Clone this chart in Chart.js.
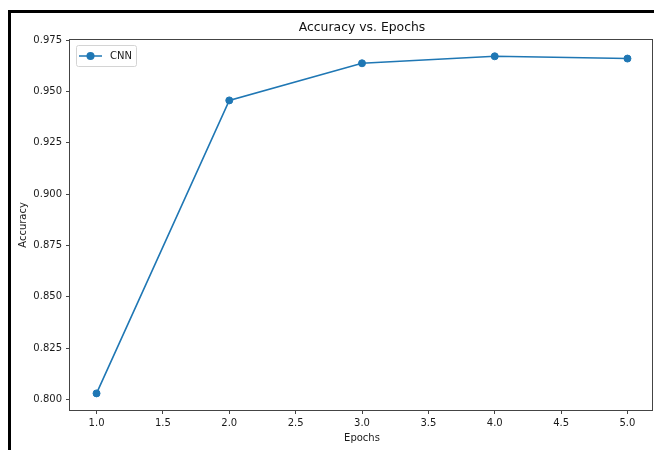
<!DOCTYPE html>
<html lang="en">
  <head>
    <meta charset="UTF-8" />
    <title>Accuracy vs. Epochs</title>
    <script src="https://cdn.jsdelivr.net/npm/chart.js"></script>
    <style>
      html,
      body {
        margin: 0;
        padding: 0;
        background: #fff;
      }
      #wrap {
        position: relative;
        width: 654px;
        height: 450px;
        overflow: hidden;
      }
      #frame {
        position: absolute;
        left: 8px;
        top: 10px;
        width: 660px;
        height: 460px;
        border-top: 3px solid #000;
        border-left: 3px solid #000;
        pointer-events: none;
      }
    </style>
  </head>
  <body>
    <div id="wrap">
      <canvas id="myChart" width="654" height="450"></canvas>
      <div id="frame"></div>
    </div>

    <script>
      // data
      const epochs = [1, 2, 3, 4, 5];
      const accuracy = [0.8029, 0.9457, 0.9638, 0.9672, 0.9661];
      const seriesName = "CNN";

      // tick labels and axis limits
      const xTickValues = [1.0, 1.5, 2.0, 2.5, 3.0, 3.5, 4.0, 4.5, 5.0];
      const yTickValues = [0.8, 0.825, 0.85, 0.875, 0.9, 0.925, 0.95, 0.975];
      const xLimits = [0.8, 5.2];
      const yLimits = [0.7948, 0.9752];

      const blue = "#1f77b4";
      const axisColor = "#444";

      Chart.defaults.font.family = "'DejaVu Sans', sans-serif";
      Chart.defaults.color = "#1a1a1a";

      // top + right spines (Chart.js only draws left/bottom)
      const spines = {
        id: "spines",
        afterDatasetsDraw(chart) {
          const { ctx, chartArea: a } = chart;
          ctx.save();
          ctx.strokeStyle = axisColor;
          ctx.lineWidth = 1;
          ctx.strokeRect(
            Math.round(a.left) - 0.5,
            Math.round(a.top) - 0.5,
            Math.round(a.right - a.left) - 1,
            Math.round(a.bottom - a.top) + 1
          );
          ctx.restore();
        },
      };

      // matplotlib style legend in the upper left corner
      const legendBox = {
        id: "legendBox",
        afterDraw(chart) {
          const { ctx, chartArea } = chart;
          const ds = chart.data.datasets[0];
          const x = Math.round(chartArea.left) + 6;
          const y = Math.round(chartArea.top) + 5;
          ctx.save();
          ctx.fillStyle = "rgba(255,255,255,0.8)";
          ctx.strokeStyle = "#d4d4d4";
          ctx.lineWidth = 1;
          ctx.beginPath();
          ctx.roundRect(x + 0.5, y + 0.5, 60, 21, 2);
          ctx.fill();
          ctx.stroke();

          const cy = y + 11;
          ctx.strokeStyle = ds.borderColor;
          ctx.lineWidth = 1.5;
          ctx.beginPath();
          ctx.moveTo(x + 3, cy);
          ctx.lineTo(x + 26, cy);
          ctx.stroke();
          ctx.fillStyle = ds.borderColor;
          ctx.beginPath();
          ctx.arc(x + 14.5, cy, 4, 0, Math.PI * 2);
          ctx.fill();

          ctx.fillStyle = "#1a1a1a";
          ctx.font = "10px 'DejaVu Sans', sans-serif";
          ctx.textBaseline = "middle";
          ctx.fillText(ds.label, x + 34, cy);
          ctx.restore();
        },
      };

      const ctx = document.getElementById("myChart").getContext("2d");

      new Chart(ctx, {
        type: "line",
        data: {
          datasets: [
            {
              label: seriesName,
              data: epochs.map((e, i) => ({ x: e, y: accuracy[i] })),
              borderColor: blue,
              backgroundColor: blue,
              borderWidth: 1.6,
              tension: 0,
              pointRadius: 3.5,
              pointBorderWidth: 1,
              pointBackgroundColor: blue,
              pointBorderColor: blue,
            },
          ],
        },
        options: {
          responsive: false,
          animation: false,
          layout: {
            autoPadding: false,
            padding: { top: 0, left: 0, right: 0, bottom: 0 },
          },
          plugins: {
            legend: { display: false },
            tooltip: { enabled: false },
            title: {
              display: true,
              text: "Accuracy vs. Epochs",
              fullSize: false,
              color: "#111",
              font: { size: 12.4, weight: "normal" },
              padding: { top: 20, bottom: 5 },
            },
          },
          scales: {
            x: {
              type: "linear",
              min: xLimits[0],
              max: xLimits[1],
              afterBuildTicks: (axis) => {
                axis.ticks = xTickValues.map((v) => ({ value: v }));
              },
              afterFit: (s) => {
                s.height = 40;
                s.paddingLeft = 0;
                s.paddingRight = 0;
              },
              ticks: {
                padding: 3,
                font: { size: 10 },
                callback: (v) => v.toFixed(1),
              },
              grid: {
                drawOnChartArea: false,
                drawTicks: true,
                tickLength: 4,
                color: axisColor,
              },
              border: { display: false },
              title: {
                display: true,
                text: "Epochs",
                font: { size: 10 },
                padding: { top: 0, bottom: 5.5 },
              },
            },
            y: {
              min: yLimits[0],
              max: yLimits[1],
              afterBuildTicks: (axis) => {
                axis.ticks = yTickValues.map((v) => ({ value: v }));
              },
              afterFit: (s) => {
                s.width = 70;
                s.paddingTop = 0;
                s.paddingBottom = 0;
              },
              ticks: {
                padding: 4,
                font: { size: 10 },
                callback: (v) => v.toFixed(3),
              },
              grid: {
                drawOnChartArea: false,
                drawTicks: true,
                tickLength: 4,
                color: axisColor,
              },
              border: { display: false },
              title: {
                display: true,
                text: "Accuracy",
                font: { size: 10 },
                padding: { top: 17, bottom: 0 },
              },
            },
          },
        },
        plugins: [spines, legendBox],
      });
    </script>
  </body>
</html>
